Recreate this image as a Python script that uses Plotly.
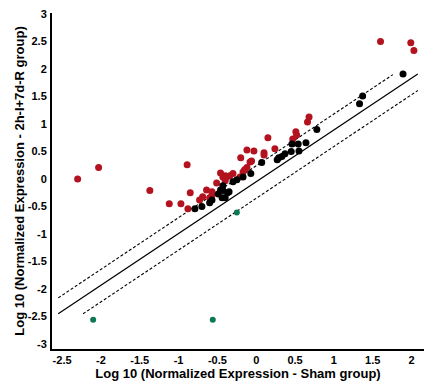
import plotly.graph_objects as go

# Upregulated genes (red)
red_x = [-2.30, -2.03, -0.89, -1.37, -0.85, -1.12, -0.97, -0.88, -0.73, -0.69, -0.64, -0.57,
         -0.57, -0.60, -0.51, -0.46, -0.43, -0.40, -0.38, -0.34, -0.30, -0.40, -0.21, -0.17,
         -0.12, -0.15, -0.12, -0.20, -0.08, -0.06, -0.03, 0.10, 0.10, 0.15, 0.24, 0.47,
         0.51, 0.52, 0.68, 0.66, 1.60, 1.99, 2.03]
red_y = [0.00, 0.21, 0.26, -0.21, -0.25, -0.45, -0.45, -0.54, -0.38, -0.32, -0.20, -0.23,
         -0.29, -0.34, -0.07, 0.11, 0.04, 0.06, 0.04, 0.06, 0.10, -0.03, 0.04, 0.13,
         0.21, 0.17, 0.53, 0.39, 0.31, 0.33, 0.51, 0.48, 0.44, 0.75, 0.55, 0.73,
         0.86, 0.80, 1.13, 1.04, 2.50, 2.48, 2.34]

# Unchanged genes (black)
black_x = [1.89, 1.37, 1.33, 0.78, 0.64, 0.54, 0.46, 0.55, 0.45, 0.37, 0.33, 0.29, 0.27,
           0.07, -0.07, -0.17, -0.25, -0.30, -0.37, -0.43, -0.43, -0.46, -0.44, -0.40,
           -0.35, -0.49, -0.57, -0.60, -0.70, -0.79]
black_y = [1.91, 1.51, 1.37, 0.90, 0.66, 0.64, 0.64, 0.51, 0.50, 0.46, 0.41, 0.39, 0.35,
           0.30, 0.10, 0.04, -0.01, -0.05, -0.25, -0.21, -0.12, -0.20, -0.34, -0.34,
           -0.23, -0.27, -0.38, -0.43, -0.50, -0.54]

# Downregulated genes (green)
green_x = [-0.25, -2.10, -0.56]
green_y = [-0.61, -2.56, -2.56]

# Reference lines (identity and fold-change boundaries)
solid_x = [-2.55, 2.08]
solid_y = [-2.45, 1.91]
upper_x = [-2.55, 1.76]
upper_y = [-2.16, 1.90]
lower_x = [-2.23, 2.08]
lower_y = [-2.45, 1.61]

x_ticks = [-2.5, -2, -1.5, -1, -0.5, 0, 0.5, 1, 1.5, 2]
x_tick_text = ["-2.5", "-2", "-1.5", "-1", "-0.5", "0", "0.5", "1", "1.5", "2"]
y_ticks = [-3, -2.5, -2, -1.5, -1, -0.5, 0, 0.5, 1, 1.5, 2, 2.5, 3]
y_tick_text = ["-3", "-2.5", "-2", "-1.5", "-1", "-0.5", "0", "0.5", "1", "1.5", "2", "2.5", "3"]

fig = go.Figure()
fig.add_trace(go.Scatter(x=solid_x, y=solid_y, mode="lines",
                         line=dict(color="black", width=1.3), hoverinfo="skip"))
fig.add_trace(go.Scatter(x=upper_x, y=upper_y, mode="lines",
                         line=dict(color="black", width=1.1, dash="3px,2px"), hoverinfo="skip"))
fig.add_trace(go.Scatter(x=lower_x, y=lower_y, mode="lines",
                         line=dict(color="black", width=1.1, dash="3px,2px"), hoverinfo="skip"))
fig.add_trace(go.Scatter(x=red_x, y=red_y, mode="markers",
                         marker=dict(color="#b3121f", size=7, line=dict(width=0))))
fig.add_trace(go.Scatter(x=black_x, y=black_y, mode="markers",
                         marker=dict(color="black", size=7, line=dict(width=0))))
fig.add_trace(go.Scatter(x=green_x, y=green_y, mode="markers",
                         marker=dict(color="#0b7a52", size=6, line=dict(width=0))))

font_family = "Liberation Sans, Arial, sans-serif"
# The page body adds an 8px margin, so the figure is sized/offset to compensate.
fig.update_layout(
    width=431, height=373,
    margin=dict(l=44, r=15, t=5, b=32),
    paper_bgcolor="white", plot_bgcolor="white",
    showlegend=False,
    font=dict(family=font_family, color="black"),
    xaxis=dict(range=[-2.63, 2.16], tickvals=x_ticks, ticktext=x_tick_text,
               showgrid=False, zeroline=False, showline=True, linecolor="black",
               linewidth=2, ticks="", automargin=False, ticklabeloverflow="allow",
               tickfont=dict(size=11, family=font_family, weight="bold"),
               title=dict(text="<b>Log 10 (Normalized Expression - Sham group)</b>",
                          font=dict(size=13), standoff=0)),
    yaxis=dict(range=[-3.09, 3.02], tickvals=y_ticks, ticktext=y_tick_text,
               showgrid=False, zeroline=False, showline=True, linecolor="black",
               linewidth=2, ticks="", automargin=False, ticklabeloverflow="allow",
               tickfont=dict(size=11, family=font_family, weight="bold"),
               ticklabelstandoff=1,
               title=dict(text="<b>Log 10 (Normalized Expression - 2h-I+7d-R group)</b>",
                          font=dict(size=13), standoff=0)),
)

fig.write_html("out.html")
